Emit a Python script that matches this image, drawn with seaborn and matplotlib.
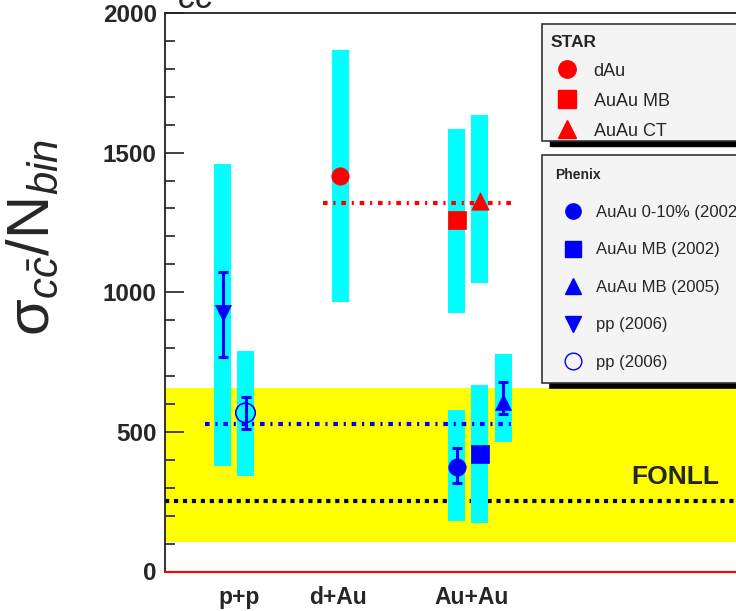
import matplotlib
matplotlib.use("Agg")
import matplotlib.pyplot as plt
from matplotlib.lines import Line2D
from matplotlib.patches import Rectangle
from matplotlib.ticker import MultipleLocator
import seaborn as sns

# ---------------- data ----------------
categories = ["p+p", "d+Au", "Au+Au"]
category_x = [0.74, 1.725, 3.065]

star_labels = ["dAu", "AuAu MB", "AuAu CT"]
star_x = [1.75, 2.915, 3.145]
star_y = [1416, 1259, 1327]
star_sys_lo = [966, 926, 1033]
star_sys_hi = [1867, 1586, 1635]
star_markers = ["o", "s", "^"]

phenix_labels = ["AuAu 0-10% (2002)", "AuAu MB (2002)", "AuAu MB (2005)", "pp (2006)", "pp (2006)"]
phenix_x = [2.915, 3.145, 3.38, 0.575, 0.805]
phenix_y = [375, 421, 608, 926, 568]
phenix_stat_lo = [318, 402, 564, 769, 510]
phenix_stat_hi = [442, 440, 680, 1073, 626]
phenix_sys_lo = [181, 174, 464, 379, 342]
phenix_sys_hi = [578, 668, 780, 1459, 791]
phenix_markers = ["o", "s", "^", "v", "o"]
phenix_filled = [True, True, True, True, False]

star_mean = 1321
star_mean_range = [1.58, 3.48]
phenix_mean = 528
phenix_mean_range = [0.40, 3.50]
fonll_central = 253
fonll_band = [107, 658]

ytick_vals = [0, 500, 1000, 1500, 2000]

# ---------------- style ----------------
sns.set_style("ticks")
plt.rcParams["font.family"] = ["Liberation Sans", "DejaVu Sans"]
plt.rcParams["mathtext.fontset"] = "custom"
plt.rcParams["mathtext.rm"] = "Liberation Sans"
plt.rcParams["mathtext.it"] = "Liberation Sans:italic"
plt.rcParams["mathtext.bf"] = "Liberation Sans:bold"

CYAN = "#00ffff"
YELLOW = "#ffff00"
RED = "#ff0000"
BLUE = "#0000ff"

fig = plt.figure(figsize=(7.36, 6.11), dpi=100)
ax = fig.add_axes([165 / 736, 39.5 / 611, 625 / 736, 558.5 / 611])
ax.set_xlim(0, 6.25)
ax.set_ylim(0, 2000)

# FONLL band and central line
ax.axhspan(fonll_band[0], fonll_band[1], color=YELLOW, lw=0, zorder=0)
ax.axhline(fonll_central, color="black", lw=3, dashes=(1.0, 1.15), zorder=1)
ax.text(4.66, 337, "FONLL", fontsize=19, fontweight="bold", ha="left", va="center", zorder=6)

# systematic boxes
bar_w = 0.17
ax.bar(star_x, [h - l for h, l in zip(star_sys_hi, star_sys_lo)], bottom=star_sys_lo,
       width=bar_w, color=CYAN, lw=0, zorder=2)
ax.bar(phenix_x, [h - l for h, l in zip(phenix_sys_hi, phenix_sys_lo)], bottom=phenix_sys_lo,
       width=bar_w, color=CYAN, lw=0, zorder=2)

# mean lines
dashdot = (1.1, 1.4, 0.5, 1.4)
ax.plot(star_mean_range, [star_mean, star_mean], color=RED, lw=3, dashes=dashdot, zorder=3)
ax.plot(phenix_mean_range, [phenix_mean, phenix_mean], color=BLUE, lw=3, dashes=dashdot, zorder=3)

# STAR points
for x, y, m in zip(star_x, star_y, star_markers):
    sns.scatterplot(x=[x], y=[y], marker=m, s=12.5 ** 2, color=RED, edgecolor=RED,
                    linewidth=0.5, ax=ax, zorder=5, legend=False)

# PHENIX points with stat errors
for x, y, lo, hi, m, f in zip(phenix_x, phenix_y, phenix_stat_lo, phenix_stat_hi,
                              phenix_markers, phenix_filled):
    ax.errorbar([x], [y], yerr=[[y - lo], [hi - y]], fmt="none", ecolor=BLUE,
                elinewidth=2.2, capsize=3.5, capthick=2.2, zorder=4)
    size = 12.5 if m in ("o", "s") else 11.5
    if f:
        sns.scatterplot(x=[x], y=[y], marker=m, s=size ** 2, color=BLUE, edgecolor=BLUE,
                        linewidth=0.5, ax=ax, zorder=5, legend=False)
    else:
        sns.scatterplot(x=[x], y=[y], marker=m, s=14 ** 2, facecolor="none", edgecolor=BLUE,
                        linewidth=1.2, ax=ax, zorder=5, legend=False)

# axes cosmetics
ax.axhline(0, color=RED, lw=1.5, zorder=6, clip_on=False)
for side in ("top", "left", "bottom", "right"):
    ax.spines[side].set_visible(True)
    ax.spines[side].set_color("#222222")
    ax.spines[side].set_linewidth(1.3)

ax.set_yticks(ytick_vals)
ax.set_yticklabels([str(v) for v in ytick_vals], fontweight="bold", fontsize=17.5)
ax.yaxis.set_minor_locator(MultipleLocator(100))
ax.tick_params(axis="y", which="major", direction="in", length=14, width=1.2, pad=6,
               color="#222222")
ax.tick_params(axis="y", which="minor", direction="in", length=7.5, width=1.2, color="#222222")
ax.set_xticks(category_x)
ax.set_xticklabels(categories, fontweight="bold", fontsize=16.5)
ax.tick_params(axis="x", which="both", length=0, pad=10.5)
ax.set_xlabel("")
ax.set_ylabel("")

# y label and clipped title fragment
fig.text(33 / 736, 1 - 238 / 611,
         r"$\mathrm{\sigma}_{\mathit{c\bar{c}}}\mathrm{/N}_{\mathit{bin}}$",
         rotation=90, fontsize=43, ha="center", va="center")
fig.text(178 / 736, 1 - 8 / 611, "cc", fontsize=26, fontstyle="italic", ha="left", va="baseline")

# legends
def ax_x(px):
    return (px - 165) / 625

def ax_y(py):
    return (571.5 - py) / 558.5

# STAR legend frame and shadow
star_box = (541.7, 24, 790, 140.5)
ax.add_patch(Rectangle((ax_x(star_box[0]) + 8 / 625, ax_y(star_box[3]) - 5 / 558.5),
                       ax_x(star_box[2]) - ax_x(star_box[0]), ax_y(star_box[1]) - ax_y(star_box[3]),
                       transform=ax.transAxes, facecolor="black", edgecolor="black",
                       clip_on=False, zorder=6.8))
ax.add_patch(Rectangle((ax_x(star_box[0]), ax_y(star_box[3])),
                       ax_x(star_box[2]) - ax_x(star_box[0]), ax_y(star_box[1]) - ax_y(star_box[3]),
                       transform=ax.transAxes, facecolor="#f4f4f4", edgecolor="#333333",
                       linewidth=1.2, clip_on=False, zorder=6.9))

star_handles = [Line2D([], [], ls="none", marker=m, color=RED, markersize=12.5)
                for m in star_markers]
leg1 = ax.legend(star_handles, star_labels, title="STAR",
                 title_fontproperties={"weight": "bold", "size": 12.5},
                 loc="upper left", bbox_to_anchor=(ax_x(541.7), ax_y(25.5), 0.37, 0),
                 mode="expand", borderaxespad=0, fontsize=13, alignment="left",
                 handlelength=1.78, handletextpad=0.6, borderpad=0.5, labelspacing=0.72,
                 frameon=False)
leg1.set_zorder(7)
ax.add_artist(leg1)

phenix_handles = []
for m, f in zip(phenix_markers, phenix_filled):
    if f:
        phenix_handles.append(Line2D([], [], ls="none", marker=m, color=BLUE, markersize=11))
    else:
        phenix_handles.append(Line2D([], [], ls="none", marker=m, markerfacecolor="none",
                                     markeredgecolor=BLUE, markeredgewidth=1.0, markersize=12))
leg2 = ax.legend(phenix_handles, phenix_labels, title="Phenix",
                 title_fontproperties={"weight": "bold", "size": 10},
                 loc="upper left", bbox_to_anchor=(ax_x(541.7), ax_y(155), 0.37, 0),
                 mode="expand", borderaxespad=0, fontsize=12, alignment="left",
                 handlelength=2.1, handletextpad=0.35, borderpad=0.8, labelspacing=1.35,
                 frameon=True, fancybox=False, framealpha=1, facecolor="#f4f4f4",
                 edgecolor="#333333",
                 shadow={"ox": 6, "oy": -3.5, "facecolor": "black", "edgecolor": "black", "alpha": 1})
leg2.get_frame().set_linewidth(1.2)
leg2.set_zorder(7)

fig.savefig("out.png", dpi=100)
